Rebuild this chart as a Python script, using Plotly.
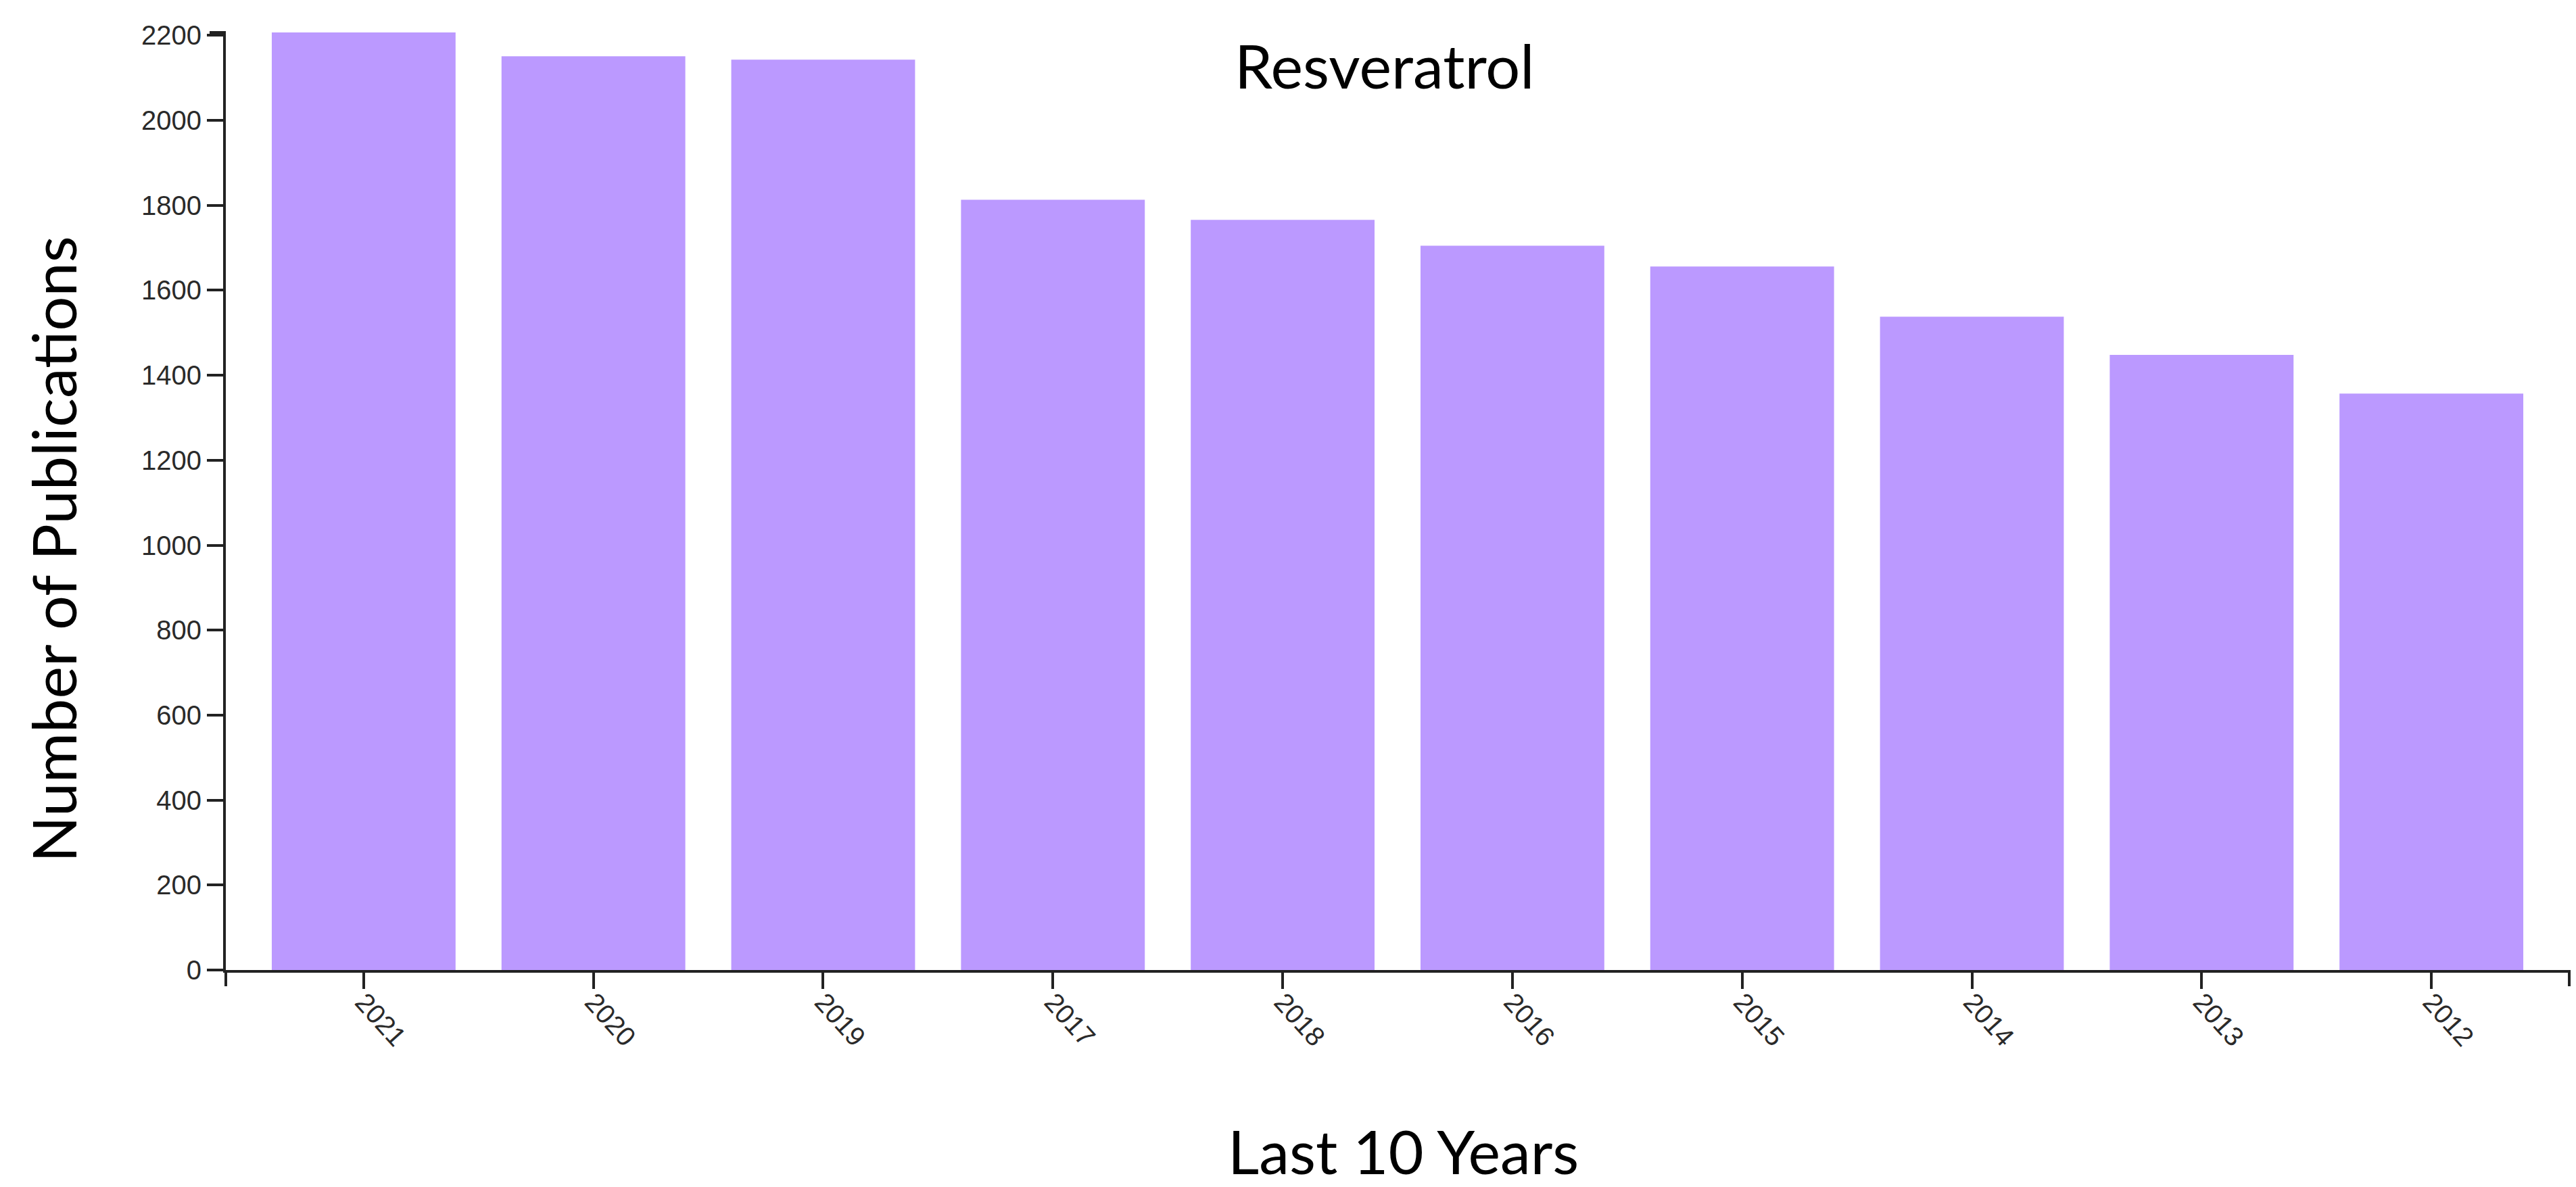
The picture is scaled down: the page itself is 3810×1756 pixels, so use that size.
import plotly.graph_objects as go

# publications per year, in the order they appear on the chart
years = ["2021", "2020", "2019", "2017", "2018", "2016", "2015", "2014", "2013", "2012"]
publications = [2207, 2151, 2143, 1813, 1766, 1705, 1656, 1538, 1448, 1357]
y_ticks = list(range(0, 2201, 200))

BAR = "#BB99FF"
INK = "#222222"
TICK_FONT = dict(family="Liberation Sans, Arial, sans-serif", size=40, color="#2a2a2a")
TITLE_FONT = dict(family="Lato, Carlito, sans-serif", size=90, color="#000000")

W, H = 3810, 1756
L, R, T, B = 326, 18, 40, 329
plot_w, plot_h = W - L - R, H - T - B

fig = go.Figure()
fig.add_bar(x=years, y=publications, marker=dict(color=BAR, line=dict(width=0)))

axis_common = dict(
    showline=True, linecolor=INK, linewidth=4,
    ticks="outside", ticklen=24, tickwidth=4, tickcolor=INK,
    showgrid=False, zeroline=False, tickfont=TICK_FONT,
)

fig.update_layout(
    width=W, height=H,
    margin=dict(l=L, r=R, t=T, b=B),
    paper_bgcolor="white", plot_bgcolor="white",
    bargap=0.2, showlegend=False,
    xaxis=dict(**axis_common, type="category", range=[-0.6, len(years) - 0.4],
               tickangle=48, ticklabelstandoff=-20),
    yaxis=dict(**axis_common, range=[0, max(publications)],
               tickmode="array", tickvals=y_ticks),
)

# d3-style outer ticks at the axis ends
tick_dx = 24 / plot_w
tick_dy = 24 / plot_h
for x0 in (0, 1):
    fig.add_shape(type="line", xref="paper", yref="paper", x0=x0, x1=x0, y0=0, y1=-tick_dy,
                  line=dict(color=INK, width=4))
fig.add_shape(type="line", xref="paper", yref="paper", x0=0, x1=-tick_dx, y0=1, y1=1,
              line=dict(color=INK, width=4))


def px_x(px):
    return (px - L) / plot_w


def px_y(px):
    return 1 - (px - T) / plot_h


fig.add_annotation(text="Resveratrol", xref="paper", yref="paper", x=px_x(2040), y=px_y(88),
                   xanchor="center", yanchor="middle", showarrow=False, font=TITLE_FONT)
fig.add_annotation(text="Last 10 Years", xref="paper", yref="paper", x=px_x(2067), y=px_y(1694),
                   xanchor="center", yanchor="middle", showarrow=False, font=TITLE_FONT)
fig.add_annotation(text="Number of Publications", xref="paper", yref="paper", x=px_x(70), y=px_y(805),
                   xanchor="center", yanchor="middle", textangle=-90, showarrow=False, font=TITLE_FONT)

fig.write_html("out.html")
